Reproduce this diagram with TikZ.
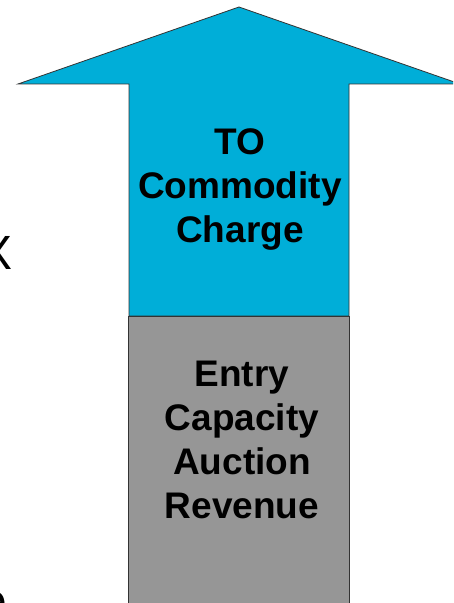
\documentclass[tikz,border=0pt]{standalone}
\usepackage{fontspec}
\setmainfont{Liberation Sans}
\definecolor{arrowblue}{RGB}{0,174,216}
\definecolor{basegray}{RGB}{150,150,150}
\begin{document}
\begin{tikzpicture}[x=1pt,y=1pt,
  panel/.style={draw=black!80,line width=0.8pt,line join=miter},
  label/.style={align=center,font=\fontsize{37}{44}\selectfont\bfseries,text=black,inner sep=0pt},
  sidetext/.style={font=\fontsize{48}{56}\selectfont,text=black,inner sep=0pt}]
\useasboundingbox (0,0) rectangle (453,603);
\clip (0,0) rectangle (453,603);
\fill[white] (0,0) rectangle (453,603);
% upward arrow: head and blue part of the shaft
\filldraw[panel,fill=arrowblue]
  (129,287) -- (129,519) -- (18,519) -- (239,596) -- (460,519) -- (349,519) -- (349,287) -- cycle;
% grey lower block of the shaft
\filldraw[panel,fill=basegray] (128,-5) rectangle (349,287);
\node[label] (top) at (240,413) {TO\\Commodity\\Charge};
\node[label] (base) at (242,163) {Entry\\Capacity\\Auction\\Revenue};
% text running in from the left margin
\node[sidetext,anchor=base] (xmark) at (-3,333) {X};
\node[sidetext,anchor=base] (tail) at (-6,-14) {e};
\end{tikzpicture}
\end{document}
